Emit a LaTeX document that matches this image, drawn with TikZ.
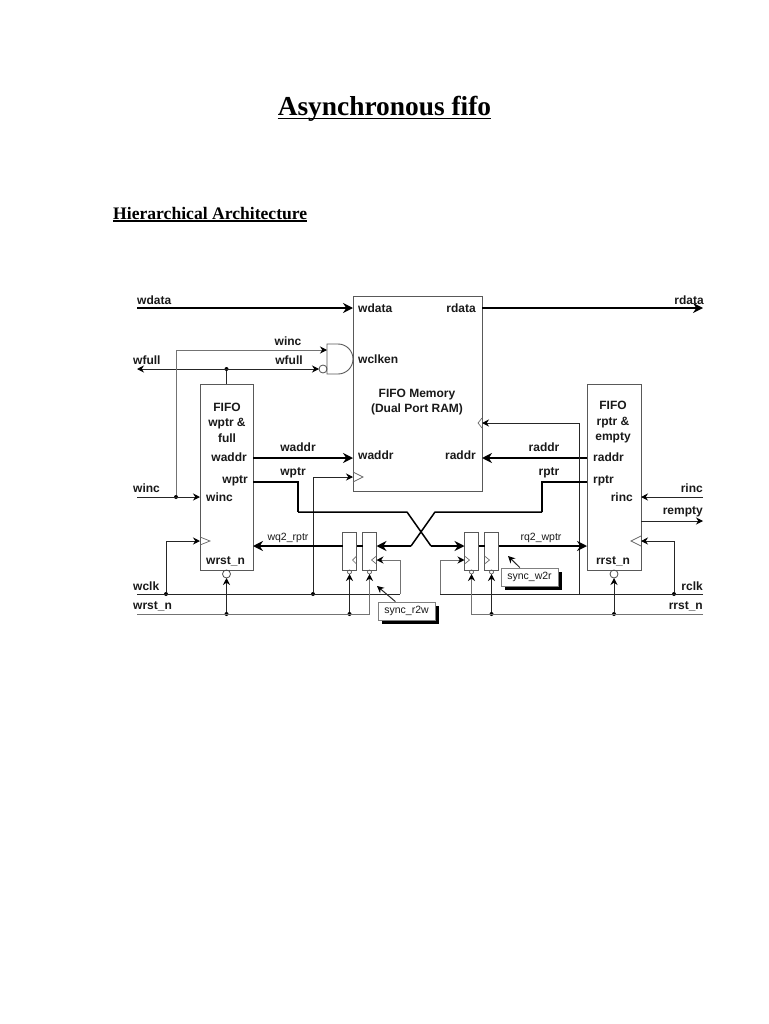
\documentclass[tikz,border=0pt]{standalone}
\usepackage{fontspec}
\setmainfont{Liberation Serif}
\newfontfamily\diagfont{Liberation Sans}
\usetikzlibrary{positioning,arrows.meta,shadows}

\begin{document}
\begin{tikzpicture}[x=1pt, y=-1pt, >={Stealth[length=7pt,width=7pt,black]},
  blk/.style={draw=black!65, line width=0.9pt, inner sep=0pt, outer sep=0pt},
  syn/.style={blk, minimum width=14pt, minimum height=38pt},
  sbub/.style={circle, draw=black!65, line width=0.7pt, inner sep=0pt, minimum size=4pt, outer sep=0pt},
  wbub/.style={circle, draw=black!70, line width=0.8pt, inner sep=0pt, minimum size=8pt, outer sep=0pt},
  lbl/.style={inner sep=0pt, align=center, text=black!90, font=\diagfont\bfseries\fontsize{12}{15.5}\selectfont},
  tiny/.style={inner sep=0pt, text=black!90, font=\diagfont\fontsize{10.5}{12}\selectfont},
  wire/.style={line width=1pt, draw=black!85},
  graywire/.style={line width=1pt, draw=black!55},
  bus/.style={line width=2pt, draw=black, >={Stealth[length=10pt,width=10pt,black]}},
  med/.style={line width=1.5pt, draw=black, line join=round},
  clk/.style={line width=0.7pt, draw=black!60},
  dot/.style={circle, fill=black, inner sep=0pt, minimum size=4pt},
  tag/.style={draw=black!50, fill=white, line width=0.8pt, inner sep=0pt, minimum width=57pt, minimum height=18pt,
    tiny, drop shadow={shadow xshift=4pt, shadow yshift=-4pt, fill=black, opacity=1}}]
  \useasboundingbox (0,0) rectangle (768,1024);

  \node[font=\bfseries\fontsize{27.4}{30}\selectfont, inner sep=0pt, anchor=base] (ttl) at (384.5,116) {Asynchronous fifo};
  \node[font=\bfseries\fontsize{17.6}{20}\selectfont, inner sep=0pt, anchor=base west] (sec) at (113,219) {Hierarchical Architecture};
  \draw[line width=1.5pt, draw=black] (ttl.west |- 0,118.6) -- (ttl.east |- 0,118.6);
  \draw[line width=1.1pt, draw=black] (sec.west |- 0,221) -- (sec.east |- 0,221);

  % main blocks
  \node[blk, minimum width=129pt, minimum height=195pt] (mem) at (417.5,393.5) {};
  \node[blk, minimum width=53pt, minimum height=186pt, left=100pt of mem, yshift=-83.5pt] (wbox) {};
  \node[blk, minimum width=54pt, minimum height=186pt, right=105pt of mem, yshift=-83.5pt] (rbox) {};
  \node[inner sep=0pt, outer sep=0pt, minimum width=26pt, minimum height=30pt] (wand) at (340,359) {};
  \draw[blk] (wand.north west) -- ++(11,0) to[out=0,in=90] (wand.east)
    to[out=-90,in=0] ++(-15,15) -- (wand.south west) -- cycle;
  \node[wbub, below=0pt of wbox] (wbubr) {};
  \node[wbub, below=0pt of rbox] (rbubr) {};

  % sync flops
  \node[syn] (wsa) at (349.5,551) {};
  \node[syn, right=6pt of wsa] (wsb) {};
  \node[syn] (rsa) at (471.5,551) {};
  \node[syn, right=6pt of rsa] (rsb) {};
  \node[sbub, below=0pt of wsa] (wsab) {};
  \node[sbub, below=0pt of wsb] (wsbb) {};
  \node[sbub, below=0pt of rsa] (rsab) {};
  \node[sbub, below=0pt of rsb] (rsbb) {};
  \node[tag] (tr2w) at (406.5,611) {sync\_r2w};
  \node[tag] (tw2r) at (529.5,577) {sync\_w2r};

  % free ends and bends
  \coordinate (wdatal) at (137,308);
  \coordinate (rdatar) at (703,308);
  \coordinate (wfulll) at (137,369);
  \coordinate (wincl) at (137,497);
  \coordinate (rincr) at (703,497);
  \coordinate (remptyr) at (703,521);
  \coordinate (wclkl) at (137,594);
  \coordinate (wclkr) at (400,594);
  \coordinate (rclkr) at (703,594);
  \coordinate (rclkl) at (440,594);
  \coordinate (wrstl) at (137,614);
  \coordinate (rrstr) at (703,614);
  \coordinate (wbend) at (298,512);
  \coordinate (rbend) at (542,512);
  \coordinate (xwtop) at (407,512);
  \coordinate (xwbot) at (431,546);
  \coordinate (xrtop) at (435,512);
  \coordinate (xrbot) at (411,546);
  \coordinate (jrmem) at (579,594);
  \coordinate (ptr2w) at (377,586);
  \coordinate (ptw2r) at (508,556);

  % junctions
  \node[wbub, anchor=east] (wandb) at (wand.west |- wfulll) {};
  \node[dot] (jfull) at (wfulll -| wbox) {};
  \node[dot] (jwinc) at (176,497) {};
  \node[dot] (jwclk) at (166,594) {};
  \node[dot] (jwptr) at (313,594) {};
  \node[dot] (jrclk) at (674,594) {};
  \node[dot] (jwrst) at (wbubr |- wrstl) {};
  \node[dot] (jwsa) at (wsab |- wrstl) {};
  \node[dot] (jrsb) at (rsbb |- rrstr) {};
  \node[dot] (jrrst) at (rbubr |- rrstr) {};

  % data and address
  \draw[bus,->] (wdatal) -- (wdatal -| mem.west);
  \draw[bus,->] (rdatar -| mem.east) -- (rdatar);
  \draw[bus,->] (wbox.east |- 0,458) -- (mem.west |- 0,458);
  \draw[bus,->] (rbox.west |- 0,458) -- (mem.east |- 0,458);

  % write control
  \draw[wire,<->] (wfulll) -- (wandb);
  \draw[wire] (jfull) -- (wbox.north);
  \draw[wire,->] (wincl) -- (wincl -| wbox.west);
  \draw[graywire,->] (jwinc) |- (wand.west |- 0,350);
  \draw[wire] (wclkl) -- (wclkr);
  \draw[graywire,->] (wclkr) |- (wsb.east |- 0,560);
  \draw[wire,->] (jwclk) |- (wbox.west |- 0,541);
  \draw[wire,->] (jwptr) |- (mem.west |- 0,477);
  \draw[graywire,->] (wrstl) -| (wsbb);
  \draw[wire,->] (jwrst) -- (wbubr);
  \draw[wire,->] (jwsa) -- (wsab);

  % read control
  \draw[wire,->] (rincr) -- (rincr -| rbox.east);
  \draw[wire,->] (remptyr -| rbox.east) -- (remptyr);
  \draw[wire] (rclkr) -- (rclkl);
  \draw[graywire,->] (rclkl) |- (rsa.west |- 0,560);
  \draw[wire,->] (jrclk) |- (rbox.east |- 0,541);
  \draw[wire,->] (jrmem) |- (mem.east |- 0,423);
  \draw[graywire,->] (rrstr) -| (rsab);
  \draw[wire,->] (jrsb) -- (rsbb);
  \draw[wire,->] (jrrst) -- (rbubr);

  % pointers through the cross
  \draw[bus] (wbox.east |- 0,482) -| (wbend);
  \draw[med] (wbend) -- (xwtop) -- (xwbot);
  \draw[bus,->] (xwbot) -- (rsa.west |- xwbot);
  \draw[bus] (rbox.west |- 0,482) -| (rbend);
  \draw[med] (rbend) -- (xrtop) -- (xrbot);
  \draw[bus,->] (xrbot) -- (wsb.east |- xrbot);
  \draw[bus] (wsb.west |- 0,546) -- (wsa.east |- 0,546);
  \draw[bus,->] (wsa.west |- 0,546) -- (wbox.east |- 0,546);
  \draw[bus] (rsa.east |- 0,546) -- (rsb.west |- 0,546);
  \draw[bus,->] (rsb.east |- 0,546) -- (rbox.west |- 0,546);

  % tag pointers
  \draw[wire,->] (tr2w) -- (ptr2w);
  \draw[wire,->] (tw2r) -- (ptw2r);

  % clock marks
  \draw[clk] (wbox.west |- 0,537) -- ++(10,4) -- ++(-10,4);
  \draw[clk] (rbox.east |- 0,536) -- ++(-10,5) -- ++(10,5);
  \draw[clk] (mem.west |- 0,472) -- ++(10,5) -- ++(-10,5);
  \draw[clk] (mem.east |- 0,418) -- ++(-4,5) -- ++(4,5);
  \draw[clk] (wsa.east |- 0,556) -- ++(-4,4) -- ++(4,4);
  \draw[clk] (wsb.east |- 0,556) -- ++(-5,4) -- ++(5,4);
  \draw[clk] (rsa.west |- 0,556) -- ++(5,4) -- ++(-5,4);
  \draw[clk] (rsb.west |- 0,556) -- ++(5,4) -- ++(-5,4);

  % labels
  \node[lbl, anchor=west] (lwdata) at (137,300) {wdata};
  \node[lbl, anchor=east] (lrdata) at (704,300) {rdata};
  \node[lbl] (lwinct) at (288,341) {winc};
  \node[lbl] (lwfullt) at (289,360) {wfull};
  \node[lbl, anchor=west] (lwfull) at (133,360) {wfull};
  \node[lbl] (lwaddr) at (298,447) {waddr};
  \node[lbl] (lwptr) at (293,473) {wptr};
  \node[lbl] (lraddr) at (544,447) {raddr};
  \node[lbl] (lrptr) at (549,473) {rptr};
  \node[lbl, anchor=west] (lwinc) at (133,488) {winc};
  \node[lbl, anchor=east] (lrinc) at (703,488) {rinc};
  \node[lbl, anchor=east] (lrempty) at (703,512) {rempty};
  \node[lbl, anchor=west] (lwclk) at (133,586) {wclk};
  \node[lbl, anchor=west] (lwrst) at (133,606) {wrst\_n};
  \node[lbl, anchor=east] (lrclk) at (703,586) {rclk};
  \node[lbl, anchor=east] (lrrst) at (703,606) {rrst\_n};
  \node[tiny] (lwq) at (288,538) {wq2\_rptr};
  \node[tiny] (lrq) at (541,538) {rq2\_wptr};

  \node[lbl, anchor=west] (mwdata) at (358,308) {wdata};
  \node[lbl, anchor=west] (mwclken) at (358,359) {wclken};
  \node[lbl, anchor=west] (mwaddr) at (358,455) {waddr};
  \node[lbl, anchor=east] (mrdata) at (476,308) {rdata};
  \node[lbl, anchor=east] (mraddr) at (476,455) {raddr};
  \node[lbl] (mname) at (417,402) {FIFO Memory\\(Dual Port RAM)};

  \node[lbl] (wname) at (227,422.5) {FIFO\\wptr \&\\full};
  \node[lbl, anchor=east] (wwaddr) at (247,457) {waddr};
  \node[lbl, anchor=east] (wwptr) at (248,481) {wptr};
  \node[lbl, anchor=west] (wwinc) at (206,497) {winc};
  \node[lbl, anchor=west] (wwrst) at (206,561) {wrst\_n};

  \node[lbl] (rname) at (613,422.5) {FIFO\\rptr \&\\empty};
  \node[lbl, anchor=west] (rraddr) at (593,457) {raddr};
  \node[lbl, anchor=west] (rrptr) at (593,481) {rptr};
  \node[lbl, anchor=east] (rrinc) at (633,497) {rinc};
  \node[lbl] (rrrst) at (613,561) {rrst\_n};
\end{tikzpicture}
\end{document}
